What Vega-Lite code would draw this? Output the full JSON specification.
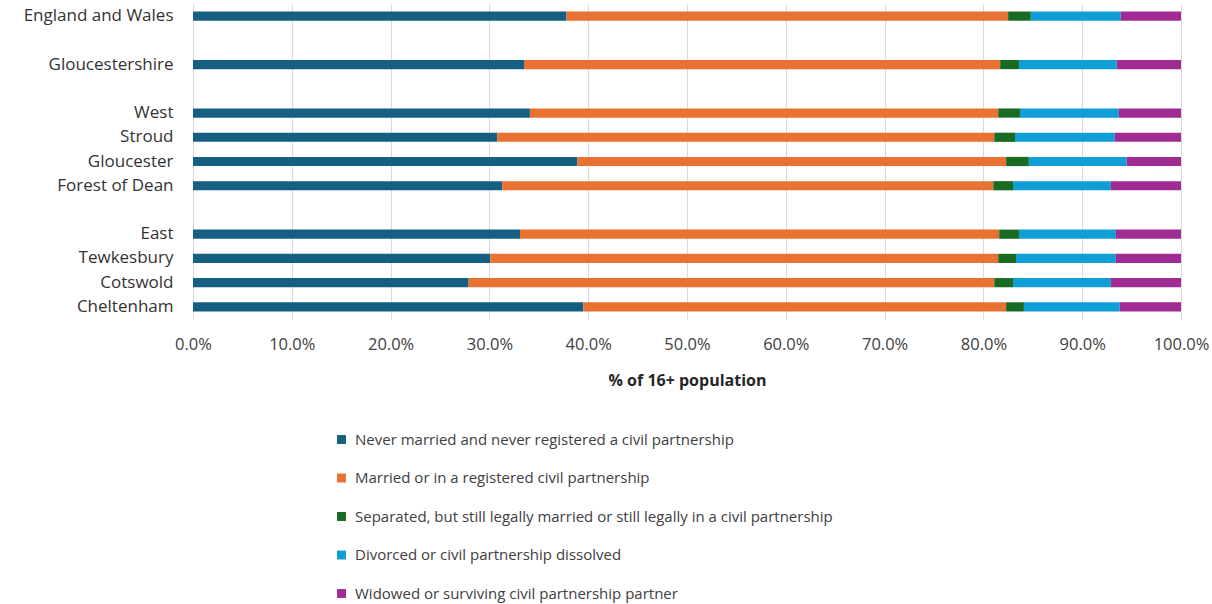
{
  "$schema": "https://vega.github.io/schema/vega-lite/v6.json",
  "autosize": {"type": "none"},
  "padding": {"left": 193, "top": 4, "right": 31, "bottom": 285},
  "width": 988,
  "height": 315,
  "background": "white",
  "config": {
    "view": {"stroke": null},
    "font": "Open Sans"
  },
  "data": {
    "values": [
      {"area": "England and Wales", "status": "Never married and never registered a civil partnership", "k": 1, "value": 37.8},
      {"area": "England and Wales", "status": "Married or in a registered civil partnership", "k": 2, "value": 44.7},
      {"area": "England and Wales", "status": "Separated, but still legally married or still legally in a civil partnership", "k": 3, "value": 2.3},
      {"area": "England and Wales", "status": "Divorced or civil partnership dissolved", "k": 4, "value": 9.1},
      {"area": "England and Wales", "status": "Widowed or surviving civil partnership partner", "k": 5, "value": 6.1},
      {"area": "Gloucestershire", "status": "Never married and never registered a civil partnership", "k": 1, "value": 33.5},
      {"area": "Gloucestershire", "status": "Married or in a registered civil partnership", "k": 2, "value": 48.2},
      {"area": "Gloucestershire", "status": "Separated, but still legally married or still legally in a civil partnership", "k": 3, "value": 1.9},
      {"area": "Gloucestershire", "status": "Divorced or civil partnership dissolved", "k": 4, "value": 9.9},
      {"area": "Gloucestershire", "status": "Widowed or surviving civil partnership partner", "k": 5, "value": 6.5},
      {"area": "West", "status": "Never married and never registered a civil partnership", "k": 1, "value": 34.1},
      {"area": "West", "status": "Married or in a registered civil partnership", "k": 2, "value": 47.4},
      {"area": "West", "status": "Separated, but still legally married or still legally in a civil partnership", "k": 3, "value": 2.2},
      {"area": "West", "status": "Divorced or civil partnership dissolved", "k": 4, "value": 10.0},
      {"area": "West", "status": "Widowed or surviving civil partnership partner", "k": 5, "value": 6.3},
      {"area": "Stroud", "status": "Never married and never registered a civil partnership", "k": 1, "value": 30.8},
      {"area": "Stroud", "status": "Married or in a registered civil partnership", "k": 2, "value": 50.3},
      {"area": "Stroud", "status": "Separated, but still legally married or still legally in a civil partnership", "k": 3, "value": 2.1},
      {"area": "Stroud", "status": "Divorced or civil partnership dissolved", "k": 4, "value": 10.1},
      {"area": "Stroud", "status": "Widowed or surviving civil partnership partner", "k": 5, "value": 6.7},
      {"area": "Gloucester", "status": "Never married and never registered a civil partnership", "k": 1, "value": 38.9},
      {"area": "Gloucester", "status": "Married or in a registered civil partnership", "k": 2, "value": 43.4},
      {"area": "Gloucester", "status": "Separated, but still legally married or still legally in a civil partnership", "k": 3, "value": 2.3},
      {"area": "Gloucester", "status": "Divorced or civil partnership dissolved", "k": 4, "value": 9.9},
      {"area": "Gloucester", "status": "Widowed or surviving civil partnership partner", "k": 5, "value": 5.5},
      {"area": "Forest of Dean", "status": "Never married and never registered a civil partnership", "k": 1, "value": 31.3},
      {"area": "Forest of Dean", "status": "Married or in a registered civil partnership", "k": 2, "value": 49.7},
      {"area": "Forest of Dean", "status": "Separated, but still legally married or still legally in a civil partnership", "k": 3, "value": 2.0},
      {"area": "Forest of Dean", "status": "Divorced or civil partnership dissolved", "k": 4, "value": 9.9},
      {"area": "Forest of Dean", "status": "Widowed or surviving civil partnership partner", "k": 5, "value": 7.1},
      {"area": "East", "status": "Never married and never registered a civil partnership", "k": 1, "value": 33.1},
      {"area": "East", "status": "Married or in a registered civil partnership", "k": 2, "value": 48.5},
      {"area": "East", "status": "Separated, but still legally married or still legally in a civil partnership", "k": 3, "value": 2.0},
      {"area": "East", "status": "Divorced or civil partnership dissolved", "k": 4, "value": 9.8},
      {"area": "East", "status": "Widowed or surviving civil partnership partner", "k": 5, "value": 6.6},
      {"area": "Tewkesbury", "status": "Never married and never registered a civil partnership", "k": 1, "value": 30.1},
      {"area": "Tewkesbury", "status": "Married or in a registered civil partnership", "k": 2, "value": 51.4},
      {"area": "Tewkesbury", "status": "Separated, but still legally married or still legally in a civil partnership", "k": 3, "value": 1.8},
      {"area": "Tewkesbury", "status": "Divorced or civil partnership dissolved", "k": 4, "value": 10.1},
      {"area": "Tewkesbury", "status": "Widowed or surviving civil partnership partner", "k": 5, "value": 6.6},
      {"area": "Cotswold", "status": "Never married and never registered a civil partnership", "k": 1, "value": 27.9},
      {"area": "Cotswold", "status": "Married or in a registered civil partnership", "k": 2, "value": 53.2},
      {"area": "Cotswold", "status": "Separated, but still legally married or still legally in a civil partnership", "k": 3, "value": 1.9},
      {"area": "Cotswold", "status": "Divorced or civil partnership dissolved", "k": 4, "value": 9.9},
      {"area": "Cotswold", "status": "Widowed or surviving civil partnership partner", "k": 5, "value": 7.1},
      {"area": "Cheltenham", "status": "Never married and never registered a civil partnership", "k": 1, "value": 39.5},
      {"area": "Cheltenham", "status": "Married or in a registered civil partnership", "k": 2, "value": 42.8},
      {"area": "Cheltenham", "status": "Separated, but still legally married or still legally in a civil partnership", "k": 3, "value": 1.8},
      {"area": "Cheltenham", "status": "Divorced or civil partnership dissolved", "k": 4, "value": 9.7},
      {"area": "Cheltenham", "status": "Widowed or surviving civil partnership partner", "k": 5, "value": 6.2}
    ]
  },
  "mark": {"type": "bar"},
  "encoding": {
    "y": {
      "field": "area",
      "type": "nominal",
      "scale": {
        "domain": ["England and Wales", "_gap1", "Gloucestershire", "_gap2", "West", "Stroud", "Gloucester", "Forest of Dean", "_gap3", "East", "Tewkesbury", "Cotswold", "Cheltenham"],
        "paddingInner": 0.62,
        "paddingOuter": 0.31
      },
      "axis": {
        "title": null,
        "labelExpr": "indexof(datum.value, '_gap') === 0 ? '' : datum.value",
        "ticks": false,
        "domain": false,
        "grid": false,
        "labelFont": "Open Sans",
        "labelFontSize": 17,
        "labelColor": "#333333",
        "labelPadding": 20
      }
    },
    "x": {
      "field": "value",
      "type": "quantitative",
      "stack": "normalize",
      "scale": {"domain": [0, 1], "nice": false},
      "axis": {
        "title": "% of 16+ population",
        "titleFont": "Open Sans",
        "titleFontSize": 16,
        "titleFontWeight": "bold",
        "titleColor": "#262626",
        "titlePadding": 20,
        "values": [0, 0.1, 0.2, 0.3, 0.4, 0.5, 0.6, 0.7, 0.8, 0.9, 1.0],
        "labelExpr": "format(datum.value, '.1%')",
        "labelOverlap": false,
        "labelFont": "Open Sans",
        "labelFontSize": 16.5,
        "labelColor": "#404040",
        "labelPadding": 17,
        "ticks": false,
        "domain": false,
        "grid": true,
        "gridColor": "#d9d9d9",
        "labelFlush": false
      }
    },
    "order": {"field": "k", "type": "quantitative", "sort": "ascending"},
    "color": {
      "field": "status",
      "type": "nominal",
      "scale": {
        "domain": [
          "Never married and never registered a civil partnership",
          "Married or in a registered civil partnership",
          "Separated, but still legally married or still legally in a civil partnership",
          "Divorced or civil partnership dissolved",
          "Widowed or surviving civil partnership partner"
        ],
        "range": ["#156082", "#e97132", "#196b24", "#0f9ed5", "#a02b93"]
      },
      "legend": {
        "title": null,
        "orient": "none",
        "legendX": 141,
        "legendY": 428,
        "direction": "vertical",
        "symbolType": "square",
        "symbolSize": 80,
        "symbolStrokeWidth": 0,
        "labelFont": "Open Sans",
        "labelFontSize": 15,
        "labelColor": "#404040",
        "labelLimit": 700,
        "rowPadding": 22.5,
        "labelOffset": 6
      }
    }
  }
}
